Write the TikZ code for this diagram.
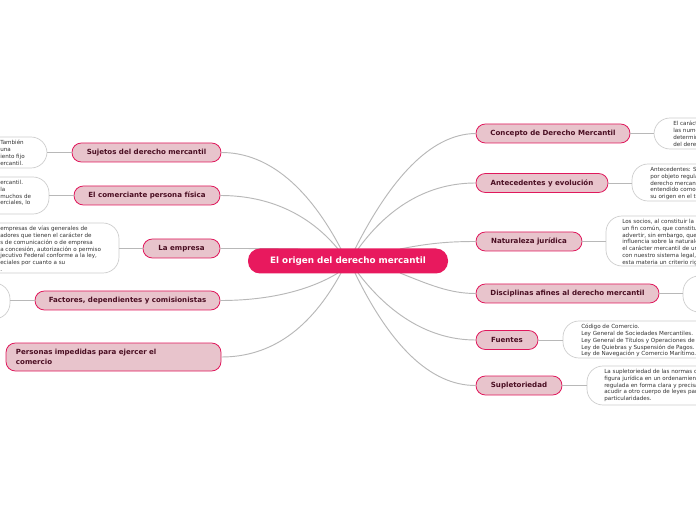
\documentclass[tikz,border=0pt]{standalone}
\usepackage{fontspec}
\setmainfont{DejaVu Sans}
\begin{document}
\begin{tikzpicture}[x=0.75pt,y=-0.75pt,
 topic/.style={draw=topicb,fill=topicf,rounded corners=7pt,line width=0.6pt,font=\fontsize{5.3}{7}\selectfont\bfseries,text=topict,inner sep=0pt},
 leafbox/.style={draw=leafb,fill=white,rounded corners=12pt,line width=0.5pt},
 leaftxt/.style={anchor=north west,align=left,font=\fontsize{4.2}{5.1}\selectfont,text=black!80,inner sep=0pt},
 conn/.style={draw=linec,line width=0.7pt}]
\definecolor{topicb}{HTML}{E0185C}
\definecolor{topicf}{HTML}{E8C4CC}
\definecolor{topict}{HTML}{4A0E22}
\definecolor{centerf}{HTML}{E8195E}
\definecolor{leafb}{HTML}{CCCCCC}
\definecolor{linec}{HTML}{B8B8B8}
\useasboundingbox (0,0) rectangle (696,520);
\clip (0,0) rectangle (696,520);
\fill[white] (0,0) rectangle (696,520);
% leaves
\draw[leafbox] (-20,137) rectangle (47,168);
\node[leaftxt] (l1) at (0,140) {También\\una\\iento fijo\\ercantil.};
\draw[leafbox] (-20,177) rectangle (49,214);
\node[leaftxt] (l2) at (0,180) {ercantil.\\la\\muchos de\\erciales, lo};
\draw[leafbox] (-20,223) rectangle (119,273);
\node[leaftxt] (l3) at (0,226) {empresas de vías generales de\\adores que tienen el carácter de\\s de comunicación o de empresa\\a concesión, autorización o permiso\\jecutivo Federal conforme a la ley,\\eciales por cuanto a su\\.};
\draw[leafbox] (-20,283) rectangle (10,319);
\draw[leafbox] (654,118) rectangle (730,149);
\node[leaftxt] (r1) at (673,121) {El caráct\\las nume\\determin\\del dere};
\draw[leafbox] (632,164) rectangle (730,201);
\node[leaftxt] (r2) at (650,167) {Antecedentes: Si\\por objeto regula\\derecho mercanti\\entendido como\\su origen en el t};
\draw[leafbox] (606,216) rectangle (730,266);
\node[leaftxt] (r3) at (622,219) {Los socios, al constituir la s\\un fin común, que constitu\\advertir, sin embargo, que\\influencia sobre la naturale\\el carácter mercantil de un\\con nuestro sistema legal,\\esta materia un criterio rig};
\draw[leafbox] (683,276) rectangle (730,312);
\draw[leafbox] (563,321) rectangle (730,358);
\node[leaftxt] (r5) at (581,324) {Código de Comercio.\\Ley General de Sociedades Mercantiles.\\Ley General de Títulos y Operaciones de C\\Ley de Quiebras y Suspensión de Pagos.\\Ley de Navegación y Comercio Marítimo.};
\draw[leafbox] (587,366) rectangle (730,405);
\node[leaftxt] (r6) at (604,369) {La supletoriedad de las normas o\\figura jurídica en un ordenamient\\regulada en forma clara y precisa\\acudir a otro cuerpo de leyes par\\particularidades.};
% topics
\node[topic,minimum width=149*0.75pt,minimum height=19*0.75pt] (t1) at (146.5,152.5) {Sujetos del derecho mercantil};
\node[topic,minimum width=146*0.75pt,minimum height=19*0.75pt] (t2) at (147,195.5) {El comerciante persona física};
\node[topic,minimum width=77*0.75pt,minimum height=19*0.75pt] (t3) at (181.5,248.5) {La empresa};
\node[topic,minimum width=185*0.75pt,minimum height=19*0.75pt] (t4) at (127.5,300.5) {Factores, dependientes y comisionistas};
\node[topic,minimum width=215*0.75pt,minimum height=28*0.75pt,text width=195*0.75pt,align=left] (t5) at (113.5,357) {Personas impedidas para ejercer el\\comercio};
\node[topic,minimum width=154*0.75pt,minimum height=19*0.75pt] (s1) at (553,133.5) {Concepto de Derecho Mercantil};
\node[topic,minimum width=132*0.75pt,minimum height=19*0.75pt] (s2) at (542,183) {Antecedentes y evolución};
\node[topic,minimum width=106*0.75pt,minimum height=19*0.75pt] (s3) at (529,241.5) {Naturaleza jurídica};
\node[topic,minimum width=183*0.75pt,minimum height=19*0.75pt] (s4) at (567.5,293.5) {Disciplinas afines al derecho mercantil};
\node[topic,minimum width=62*0.75pt,minimum height=19*0.75pt] (s5) at (507,340) {Fuentes};
\node[topic,minimum width=86*0.75pt,minimum height=19*0.75pt] (s6) at (519,385.5) {Supletoriedad};
% leaf connectors
\draw[conn] (t1.west) -- (47,152.5);
\draw[conn] (t2.west) -- (49,195.5);
\draw[conn] (t3.west) -- (119,248.5);
\draw[conn] (t4.west) -- (10,300.5);
\draw[conn] (s1.east) -- (654,133.5);
\draw[conn] (s2.east) -- (632,183);
\draw[conn] (s3.east) -- (606,241.5);
\draw[conn] (s4.east) -- (683,293.5);
\draw[conn] (s5.east) -- (563,340);
\draw[conn] (s6.east) -- (587,385.5);
% central connectors
\draw[conn] (355,249) .. controls (390,180) and (430,134) .. (s1.west);
\draw[conn] (358,249) .. controls (390,205) and (430,183) .. (s2.west);
\draw[conn] (400,249) .. controls (430,243) and (450,241.5) .. (s3.west);
\draw[conn] (400,273) .. controls (430,285) and (450,293.5) .. (s4.west);
\draw[conn] (358,273) .. controls (390,315) and (430,340) .. (s5.west);
\draw[conn] (355,273) .. controls (390,345) and (430,385.5) .. (s6.west);
\draw[conn] (341,249) .. controls (310,190) and (270,152.5) .. (t1.east);
\draw[conn] (338,249) .. controls (310,215) and (270,195.5) .. (t2.east);
\draw[conn] (300,249) .. controls (270,248.5) and (240,248.5) .. (t3.east);
\draw[conn] (338,273) .. controls (310,290) and (270,300.5) .. (t4.east);
\draw[conn] (341,273) .. controls (310,330) and (270,357) .. (t5.east);
\node[fill=centerf,rounded corners=9pt,minimum width=200*0.75pt,minimum height=25*0.75pt,text=white,font=\fontsize{6.6}{8}\selectfont\bfseries] (c) at (348,261) {El origen del derecho mercantil};
\end{tikzpicture}
\end{document}
